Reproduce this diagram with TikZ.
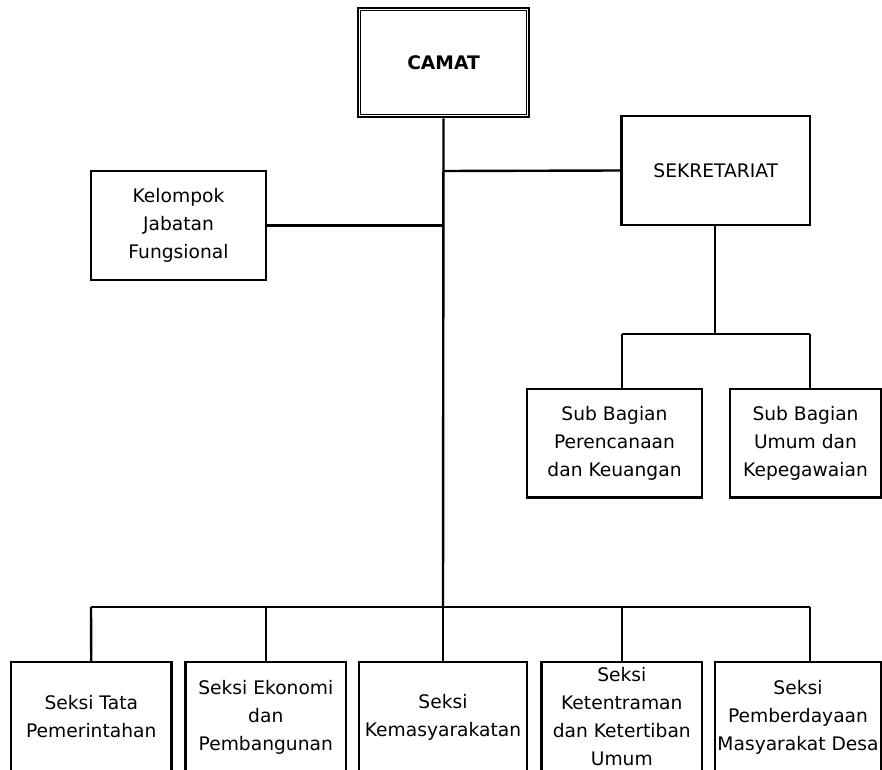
\documentclass[tikz,border=0pt]{standalone}
\usepackage{fontspec}
\setmainfont{DejaVu Sans}
\begin{document}
\begin{tikzpicture}[x=0.75pt,y=-0.75pt,
  box/.style={draw, line width=1.8pt, rectangle, inner sep=0pt, align=center,
    font=\fontsize{14}{21}\selectfont},
  conn/.style={draw, line width=1.8pt}]
\useasboundingbox (0,0) rectangle (882,770);

% boxes
\node[box, line width=2pt, minimum width=128.25pt, minimum height=81.75pt,
  font=\fontsize{14}{21}\selectfont\bfseries] (camat) at (443.5,62.5) {CAMAT};
\draw[line width=1pt] ([shift={(4,4)}]camat.north west) rectangle ([shift={(-4,-4)}]camat.south east);

\node[box, minimum width=141.4pt, minimum height=81.75pt] (sek) at (715.75,170.5) {SEKRETARIAT};
\node[box, minimum width=131.25pt, minimum height=81.75pt] (kel) at (178.5,225.5) {Kelompok\\Jabatan\\Fungsional};

\node[box, minimum width=131.25pt, minimum height=81.4pt] (sb1) at (614.5,443.25) {Sub Bagian\\Perencanaan\\dan Keuangan};
\node[box, minimum width=113.25pt, minimum height=81.4pt] (sb2) at (805.5,443.25) {Sub Bagian\\Umum dan\\Kepegawaian};

\node[box, minimum width=120.4pt, minimum height=82.5pt] (b1) at (91.25,717) {Seksi Tata\\Pemerintahan};
\node[box, minimum width=120.3pt, minimum height=82.5pt] (b2) at (265.8,717) {Seksi Ekonomi\\dan\\Pembangunan};
\node[box, minimum width=126pt, minimum height=82.5pt] (b3) at (443,717) {Seksi\\Kemasyarakatan};
\node[box, minimum width=120.3pt, minimum height=82.5pt] (b4) at (621.8,717) {Seksi\\Ketentraman\\dan Ketertiban\\Umum};
\node[box, minimum width=124.5pt, minimum height=82.5pt] (b5) at (798,717) {Seksi\\Pemberdayaan\\Masyarakat Desa};

% coordinates
\coordinate (trunkS) at (443,171);
\coordinate (trunkK) at (443,225.5);
\coordinate (busM) at (443,607);
\coordinate (busL) at (91,607);
\coordinate (bus2) at (266,607);
\coordinate (bus4) at (622,607);
\coordinate (busR) at (810,607);
\coordinate (sbM) at (715,334);
\coordinate (sbL) at (622,334);
\coordinate (sbR) at (810,334);

% connectors
\path[conn] (camat.south) -- (busM);
\path[conn] (trunkS) -- (sek.west);
\path[conn] (kel.east) -- (trunkK);
\path[conn] (busL) -- (busR);
\path[conn] (busL) -- (b1.north);
\path[conn] (bus2) -- (bus2 |- b2.north);
\path[conn] (busM) -- (b3.north);
\path[conn] (bus4) -- (bus4 |- b4.north);
\path[conn] (busR) -- (busR |- b5.north);
\path[conn] (sek.south -| sbM) -- (sbM);
\path[conn] (sbL) -- (sbR);
\path[conn] (sbL) -- (sbL |- sb1.north);
\path[conn] (sbR) -- (sbR |- sb2.north);
\end{tikzpicture}
\end{document}
